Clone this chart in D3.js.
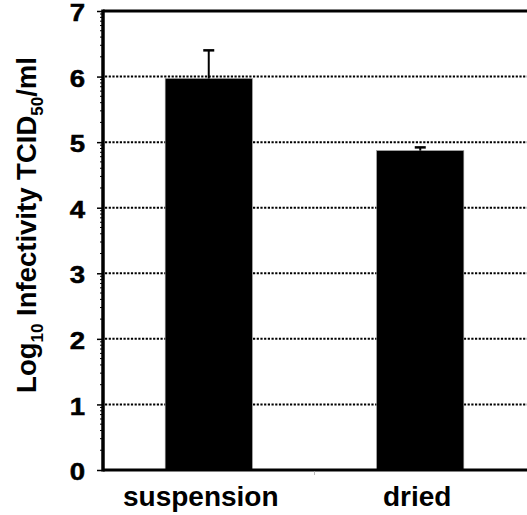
<!DOCTYPE html>
<html><head><meta charset="utf-8">
<script src="https://cdn.jsdelivr.net/npm/d3@7"></script>
<style>
body{margin:0;background:#fff;}
text{font-family:"Liberation Sans",Arial,sans-serif;font-weight:bold;fill:#000;}
</style></head>
<body><svg id="c" width="527" height="515"></svg>
<script>
const categories = ["suspension", "dried"];
const values = [5.97, 4.87];
const errors = [0.43, 0.05];
const yTicks = [0, 1, 2, 3, 4, 5, 6, 7];

const svg = d3.select("#c");
const W = 527, H = 515;
const pLeft = 103, pTop = 11, pBottom = 470;

const y = d3.scaleLinear().domain([0, 7]).range([pBottom, pTop]);
const x = d3.scaleBand().domain(categories).range([pLeft, 526]).paddingInner(0.588).paddingOuter(0.294);

// gridlines
svg.append("g").selectAll("line").data(yTicks.filter(d => d > 0 && d < 7)).join("line")
  .attr("x1", pLeft + 2).attr("x2", W).attr("y1", d => y(d)).attr("y2", d => y(d))
  .attr("stroke", "#000").attr("stroke-width", 2).attr("stroke-dasharray", "2.2 1.5");

// bars
svg.append("g").selectAll("rect").data(categories).join("rect")
  .attr("x", d => x(d)).attr("width", x.bandwidth())
  .attr("y", (d, i) => y(values[i])).attr("height", (d, i) => pBottom - y(values[i]))
  .attr("fill", "#000").attr("stroke", "#999").attr("stroke-width", 0.6);

// error bars
const eb = svg.append("g");
categories.forEach((c, i) => {
  const cx = x(c) + x.bandwidth() / 2;
  eb.append("line").attr("x1", cx).attr("x2", cx).attr("y1", y(values[i])).attr("y2", y(values[i] + errors[i]))
    .attr("stroke", "#000").attr("stroke-width", 2);
  eb.append("line").attr("x1", cx - 5.5).attr("x2", cx + 5.5).attr("y1", y(values[i] + errors[i])).attr("y2", y(values[i] + errors[i]))
    .attr("stroke", "#000").attr("stroke-width", 2.5);
});

// minor log-style ticks
const minor = [];
for (let k = 0; k < 7; k++) for (let m = 2; m <= 9; m++) minor.push(k + Math.log10(m));
svg.append("g").selectAll("line").data(minor).join("line")
  .attr("x1", pLeft - 3).attr("x2", pLeft).attr("y1", d => y(d)).attr("y2", d => y(d))
  .attr("stroke", "#000").attr("stroke-width", 1);

// y axis
const yAxis = d3.axisLeft(y).tickValues(yTicks).tickFormat(d3.format("d")).tickSize(6).tickPadding(12);
const ga = svg.append("g").attr("transform", `translate(${pLeft},0)`).call(yAxis);
ga.select(".domain").remove();
ga.selectAll(".tick line").attr("stroke", "#000").attr("stroke-width", 1.5);
ga.selectAll(".tick text").attr("font-size", 24).attr("font-family", "Liberation Sans, Arial, sans-serif")
  .attr("font-weight", "bold").attr("dy", "0.4em")
  .attr("x", -18 / 1.15).attr("transform", "scale(1.15,1)")
  .attr("stroke", "#000").attr("stroke-width", 0.5);

// frame lines
svg.append("line").attr("x1", pLeft).attr("x2", pLeft).attr("y1", pTop - 1.5).attr("y2", pBottom + 1.5).attr("stroke", "#000").attr("stroke-width", 3.5);
svg.append("line").attr("x1", pLeft).attr("x2", W).attr("y1", pTop).attr("y2", pTop).attr("stroke", "#000").attr("stroke-width", 3);
svg.append("line").attr("x1", pLeft).attr("x2", W).attr("y1", pBottom).attr("y2", pBottom).attr("stroke", "#000").attr("stroke-width", 3);

// x axis separator tick (small gray)
const sepX = x(categories[1]) - (x.step() - x.bandwidth()) / 2;
svg.append("line").attr("x1", sepX).attr("x2", sepX).attr("y1", pBottom + 1.5).attr("y2", pBottom + 5)
  .attr("stroke", "#bbb").attr("stroke-width", 1);

// category labels
svg.append("g").selectAll("text").data(categories).join("text")
  .attr("x", (d, i) => x(d) + x.bandwidth() / 2 - (i === 0 ? 8 : 3)).attr("y", 506)
  .attr("text-anchor", "middle").attr("font-size", 28).text(d => d);

// y label
const yl = svg.append("text").attr("transform", "translate(36,225) rotate(-90)").attr("text-anchor", "middle").attr("font-size", 27.5);
yl.append("tspan").text("Log");
yl.append("tspan").attr("font-size", 17).attr("dy", 7).text("10");
yl.append("tspan").attr("dy", -7).text(" Infectivity TCID");
yl.append("tspan").attr("font-size", 17).attr("dy", 7).text("50");
yl.append("tspan").attr("dy", -7).text("/ml");
</script></body></html>
